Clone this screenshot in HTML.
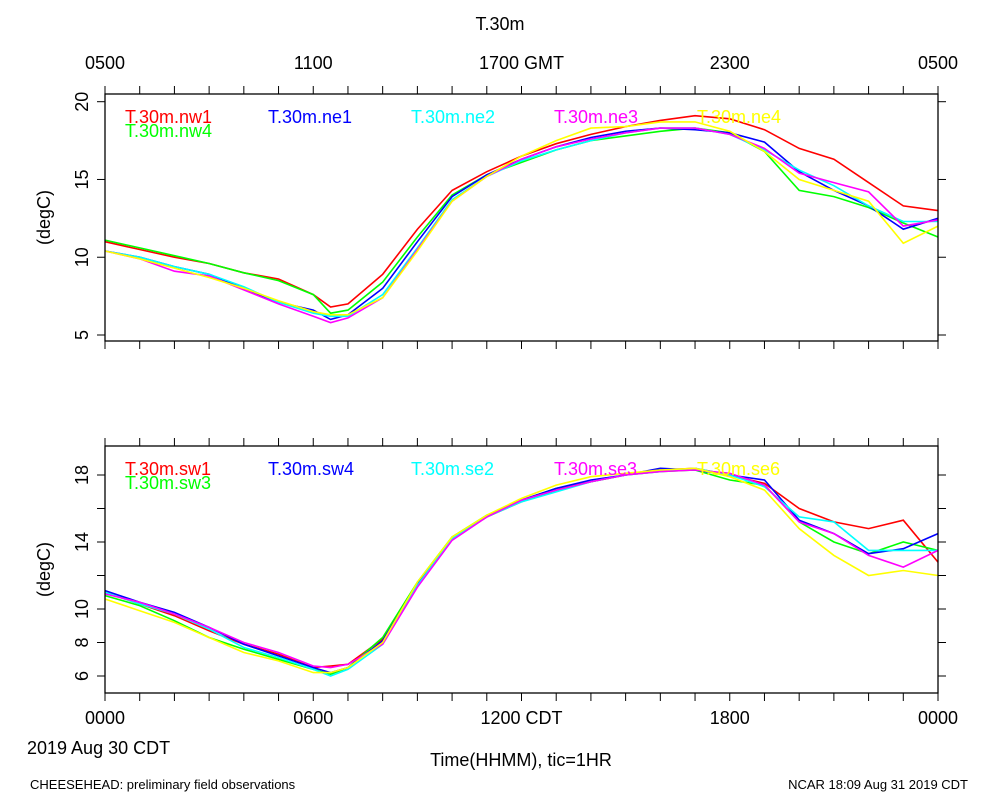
<!DOCTYPE html>
<html><head><meta charset="utf-8"><style>
body{margin:0;background:#fff;}
svg text{font-family:"Liberation Sans",sans-serif;}
</style></head><body>
<svg id="chart" width="1000" height="800" viewBox="0 0 1000 800" xmlns="http://www.w3.org/2000/svg">
<rect width="1000" height="800" fill="#fff"/>
<text x="500" y="30" font-size="18" text-anchor="middle">T.30m</text>
<text x="27" y="754" font-size="18">2019 Aug 30 CDT</text>
<text x="521" y="766" font-size="18" text-anchor="middle">Time(HHMM), tic=1HR</text>
<text x="30" y="789" font-size="13">CHEESEHEAD: preliminary field observations</text>
<text x="968" y="789" font-size="13" text-anchor="end">NCAR 18:09 Aug 31 2019 CDT</text>
<g id="g"></g>
</svg>
<script>
const hours = [0,1,2,3,4,5,6,6.5,7,8,9,10,11,12,13,14,15,16,17,18,19,20,21,22,23,24];
const topNames = ["T.30m.nw1","T.30m.nw4","T.30m.ne1","T.30m.ne2","T.30m.ne3","T.30m.ne4"];
const nw1 = [11.0,10.5,10.0,9.6,9.0,8.6,7.6,6.8,7.0,8.9,11.8,14.3,15.5,16.5,17.3,17.9,18.4,18.8,19.1,18.9,18.2,17.0,16.3,14.8,13.3,13.0];
const nw4 = [11.1,10.6,10.1,9.6,9.0,8.5,7.6,6.4,6.6,8.4,11.3,14.0,15.3,16.1,16.9,17.5,17.8,18.1,18.3,18.0,16.8,14.3,13.9,13.2,12.2,11.3];
const ne1 = [10.4,10.0,9.4,8.9,8.0,7.1,6.6,6.0,6.3,8.0,11.0,13.9,15.3,16.3,17.1,17.7,18.1,18.3,18.2,18.0,17.4,15.5,14.3,13.3,11.8,12.5];
const ne2 = [10.4,10.0,9.4,8.9,8.1,7.1,6.4,6.2,6.2,7.6,10.6,13.7,15.2,16.2,16.9,17.5,18.0,18.3,18.3,17.9,16.9,15.6,14.6,13.3,12.3,12.3];
const ne3 = [10.4,9.9,9.1,8.8,7.9,7.0,6.2,5.8,6.1,7.4,10.5,13.6,15.2,16.3,17.1,17.6,18.0,18.3,18.3,17.9,17.0,15.4,14.8,14.2,12.0,12.4];
const ne4 = [10.4,9.9,9.3,8.7,8.0,7.2,6.5,6.3,6.3,7.4,10.4,13.6,15.2,16.5,17.5,18.3,18.4,18.7,18.7,18.1,16.8,15.0,14.3,13.6,10.9,12.0];
const botNames = ["T.30m.sw1","T.30m.sw3","T.30m.sw4","T.30m.se2","T.30m.se3","T.30m.se6"];
const sw1 = [11.0,10.3,9.6,8.7,7.9,7.3,6.5,6.6,6.7,8.2,11.5,14.2,15.5,16.4,17.1,17.6,18.0,18.3,18.4,18.0,17.5,16.0,15.2,14.8,15.3,12.8];
const sw3 = [10.8,10.2,9.3,8.3,7.6,7.0,6.4,6.1,6.5,8.3,11.6,14.3,15.6,16.5,17.2,17.6,18.0,18.2,18.3,17.7,17.4,15.2,14.0,13.3,14.0,13.5];
const sw4 = [11.1,10.4,9.8,8.9,7.9,7.2,6.5,6.2,6.5,8.1,11.5,14.2,15.5,16.5,17.2,17.7,18.0,18.4,18.3,18.0,17.7,15.3,14.5,13.3,13.6,14.5];
const se2 = [11.0,10.3,9.7,8.8,7.7,7.1,6.4,6.0,6.4,7.9,11.4,14.2,15.5,16.4,17.0,17.6,18.0,18.2,18.4,18.0,17.3,15.5,15.2,13.5,13.5,13.5];
const se3 = [10.9,10.4,9.7,8.9,8.0,7.4,6.6,6.5,6.7,7.9,11.3,14.1,15.5,16.5,17.1,17.6,18.0,18.2,18.3,18.1,17.4,15.2,14.5,13.2,12.5,13.5];
const se6 = [10.6,9.9,9.2,8.3,7.4,6.9,6.2,6.2,6.5,8.0,11.6,14.3,15.6,16.6,17.4,17.9,18.1,18.3,18.4,17.9,17.1,14.8,13.2,12.0,12.3,12.0];
const topTicks = [5,10,15,20];
const botTicks = [6,8,10,12,14,16,18];
const botTickLabels = ["6","8","10","","14","","18"];
const topAxisLabels = ["0500","1100","1700 GMT","2300","0500"];
const botAxisLabels = ["0000","0600","1200 CDT","1800","0000"];
const colors = ["#ff0000","#00ff00","#0000ff","#00ffff","#ff00ff","#ffff00"];

const NS="http://www.w3.org/2000/svg", G=document.getElementById('g');
function mk(tag, attrs, parent){const e=document.createElementNS(NS,tag);for(const k in attrs)e.setAttribute(k,attrs[k]);(parent||G).appendChild(e);return e;}
const X0=105,X1=938;
function xs(h){return X0+(h/24)*(X1-X0);}

function panel(name, top, bottom, yTop, vTop, yBot, vBot, ticks, tickLabels, series, names, axisLabels, labelY){
  const ys=v=>yBot+(v-vBot)*(yTop-yBot)/(vTop-vBot);
  const g=mk('g',{});
  
  
  series.forEach((s,i)=>{
    const p=mk('polyline',{points:s.map((v,j)=>xs(hours[j]).toFixed(1)+','+ys(v).toFixed(1)).join(' '),fill:'none',stroke:colors[i],'stroke-width':1.6},g);
    
    
  });
  const fr=mk('rect',{x:X0,y:top,width:X1-X0,height:bottom-top,fill:'none',stroke:'#000','stroke-width':1.3},g);
  
  
  for(let h=0;h<=24;h++){
    mk('line',{x1:xs(h),x2:xs(h),y1:top,y2:top-8,stroke:'#000'},g);
    mk('line',{x1:xs(h),x2:xs(h),y1:bottom,y2:bottom+8,stroke:'#000'},g);
  }
  ticks.forEach((t,i)=>{
    const y=ys(t);
    mk('line',{x1:X0,x2:X0-8,y1:y,y2:y,stroke:'#000'},g);
    mk('line',{x1:X1,x2:X1+8,y1:y,y2:y,stroke:'#000'},g);
    if(tickLabels[i]!==""){
      const tx=mk('text',{x:0,y:0,'font-size':18,'text-anchor':'middle',transform:`translate(${X0-17},${y}) rotate(-90)`},g);
      tx.textContent=tickLabels[i];
      
      
    }
  });
  const yt=mk('text',{x:0,y:0,'font-size':18,'text-anchor':'middle',transform:`translate(50,${(top+bottom)/2}) rotate(-90)`},g);
  yt.textContent='(degC)';
  
  
  axisLabels.forEach((l,i)=>{
    const t=mk('text',{x:xs(i*6),y:labelY,'font-size':18,'text-anchor':'middle'},g);
    t.textContent=l;
    
    
  });
  names.forEach((n,i)=>{
    const t=mk('text',{x:125+(i>1?i-1:0)*143,y:top+29+(i===1?14:0),'font-size':18,fill:colors[i]},g);
    t.textContent=n;
    
    
  });
}
panel('top-panel',94,341,101.7,20,335,5,topTicks,topTicks.map(String),[nw1,nw4,ne1,ne2,ne3,ne4],topNames,topAxisLabels,69);
panel('bottom-panel',446,693,475,18,676,6,botTicks,botTickLabels,[sw1,sw3,sw4,se2,se3,se6],botNames,botAxisLabels,724);
</script>
</body></html>
